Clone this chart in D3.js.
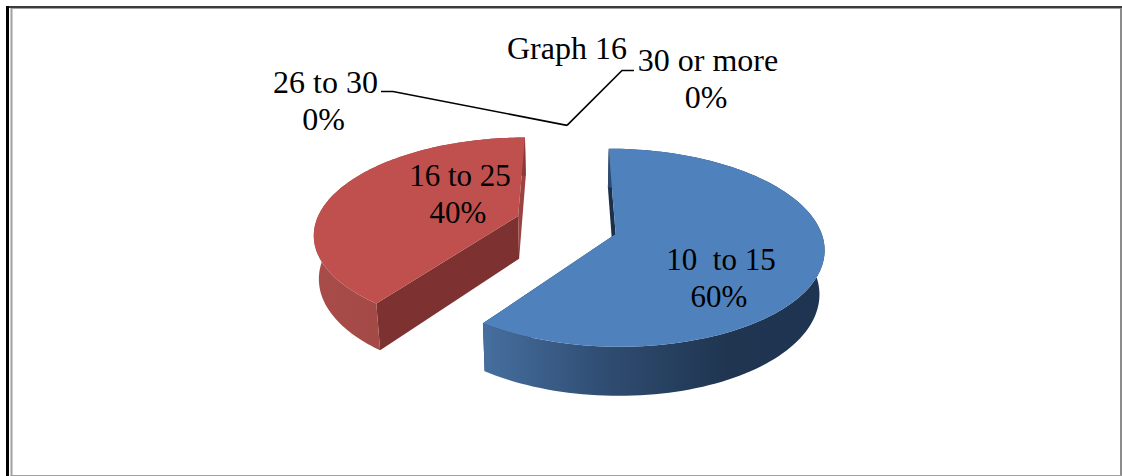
<!DOCTYPE html>
<html>
<head>
<meta charset="utf-8">
<style>
  html, body { margin: 0; padding: 0; background: #fff; }
  svg { display: block; }
  text { font-family: "Liberation Serif", "Times New Roman", serif; font-size: 32px; fill: #000; }
</style>
</head>
<body>
<svg id="chart" width="1122" height="476"></svg>
<script src="https://cdn.jsdelivr.net/npm/d3@7/dist/d3.min.js"></script>
<script>
// Chart content
const chartTitle = "Graph 16";
const categories = ["10  to 15", "16 to 25", "26 to 30", "30 or more"];
const shares = [60, 40, 0, 0];

// Slice colours: top face, side gradient stops, cut faces at each slice's start and end angle
const topColors = ["#4f81bd", "#bf504d"];
const wallStops = [
  [["#466f9f", 0], ["#2f4c71", 0.36], ["#1f3550", 0.72], ["#1e3451", 1]],
  [["#a84c49", 0], ["#9d4643", 0.7], ["#8c3a38", 1]]
];
const startCutColors = ["#1c3149", "#7d3231"];
const endCutColors = ["#1c3149", "#9a4340"];

// Perspective set-up of the tilted disc
const tilt = -0.1167;      // foreshortening towards the back of the disc
const explode = 0.235;     // how far each slice is pulled out, in radii
const depth = 43;          // wall height at the disc's middle
const floorShrink = 0.98;  // the lower rim sits slightly closer to the centre
const cx = 567, cy = 229, rx = 207, ry = 96;
const rimInset = [[0, 0], [0.042, 0.005]];  // trim at each slice's start and end edge, radians
const apexShift = [[2, -2], [-3, -6]];      // fine placement of each slice's inner corner

const xScale = d3.scaleLinear().domain([-1, 1]).range([cx - rx, cx + rx]);
const yScale = d3.scaleLinear().domain([-1, 1]).range([cy - ry, cy + ry]);

function project(u, v) {
  const w = 1 + tilt * v;
  return [xScale(u / w), yScale(v / w), w];
}
function floorOf(p) {
  return [cx + (p[0] - cx) * floorShrink, p[1] + depth / p[2]];
}

const arcs = d3.pie().sort(null).value(d => d)(shares);

function sliceGeometry(a, i) {
  const mid = (a.startAngle + a.endAngle) / 2;
  const ox = explode * Math.sin(mid), oy = -explode * Math.cos(mid);
  const at = t => project(ox + Math.sin(t), oy - Math.cos(t));
  const c = project(ox, oy);
  const apex = [c[0] + apexShift[i][0], c[1] + apexShift[i][1], c[2]];
  const t0 = a.startAngle + rimInset[i][0], t1 = a.endAngle - rimInset[i][1];
  const steps = d3.range(0, 121).map(k => t0 + (t1 - t0) * k / 120);
  return { apex, rim: steps.map(at) };
}

const svg = d3.select("#chart");
const defs = svg.append("defs");
const line = d3.line();
const poly = pts => line(pts.map(p => [p[0], p[1]])) + "Z";

// Page frame around the figure
const frame = svg.append("g");
frame.append("rect").attr("x", 6).attr("y", 6).attr("width", 1116).attr("height", 2).attr("fill", "#3c3c3c");
frame.append("rect").attr("x", 6).attr("y", 6).attr("width", 3).attr("height", 470).attr("fill", "#000");
frame.append("rect").attr("x", 10.5).attr("y", 8).attr("width", 2).attr("height", 468).attr("fill", "#a0a0a0");
frame.append("rect").attr("x", 10.5).attr("y", 8).attr("width", 1110).attr("height", 1).attr("fill", "#a0a0a0");
frame.append("rect").attr("x", 1120).attr("y", 8).attr("width", 2).attr("height", 468).attr("fill", "#8c8c8c");
frame.append("rect").attr("x", 10.5).attr("y", 475).attr("width", 1111).attr("height", 1).attr("fill", "#a0a0a0");

// Slices: cut faces, then the curved wall, then the top face over them
const sliceLayer = svg.append("g");
arcs.forEach((a, i) => {
  if (a.value === 0) return;
  const { apex, rim } = sliceGeometry(a, i);
  const first = rim[0], last = rim[rim.length - 1];

  const [xMin, xMax] = d3.extent(rim, p => p[0]);
  const grad = defs.append("linearGradient")
    .attr("id", "wall" + i)
    .attr("gradientUnits", "userSpaceOnUse")
    .attr("x1", xMin).attr("x2", xMax).attr("y1", 0).attr("y2", 0);
  wallStops[i].forEach(([c, o]) => grad.append("stop").attr("offset", o).attr("stop-color", c));

  const g = sliceLayer.append("g");
  g.append("path")
    .attr("d", poly([first, apex, floorOf(apex), floorOf(first)]))
    .attr("fill", startCutColors[i]);
  g.append("path")
    .attr("d", poly([apex, last, floorOf(last), floorOf(apex)]))
    .attr("fill", endCutColors[i]);
  g.append("path")
    .attr("d", poly(rim.concat(rim.map(floorOf).reverse())))
    .attr("fill", `url(#wall${i})`);
  g.append("path")
    .attr("d", poly([apex].concat(rim)))
    .attr("fill", topColors[i]);
});

// Label text blocks: category then percentage
const lineGap = 36.5;
const percentNudge = -2;
const labelSizes = [31, 31, 32, 32];
const labelAnchors = [[721, 270], [460, 186], [325.5, 93], [708, 71]];
const labelLayer = svg.append("g").attr("text-anchor", "middle");
categories.forEach((name, i) => {
  const [x, y] = labelAnchors[i];
  const t = labelLayer.append("text")
    .attr("xml:space", "preserve")
    .style("white-space", "pre")
    .style("font-size", labelSizes[i] + "px");
  t.append("tspan").attr("x", x).attr("y", y).text(name);
  t.append("tspan").attr("x", x + percentNudge).attr("y", y + lineGap).text(shares[i] + "%");
});

// Leader lines of the two empty slices meet at their shared point on the rim
const emptyPoint = project(0, -(1 + explode)).slice(0, 2);
const leaders = [
  [[381, 91.5], [393, 91.5], emptyPoint],
  [[634, 70.5], [622, 70.5], emptyPoint]
];
leaders.forEach(pts => {
  svg.append("path")
    .attr("d", line(pts))
    .attr("fill", "none")
    .attr("stroke", "#000")
    .attr("stroke-width", 1.6);
});

svg.append("text").attr("x", 507).attr("y", 58.5).text(chartTitle);
</script>
</body>
</html>
